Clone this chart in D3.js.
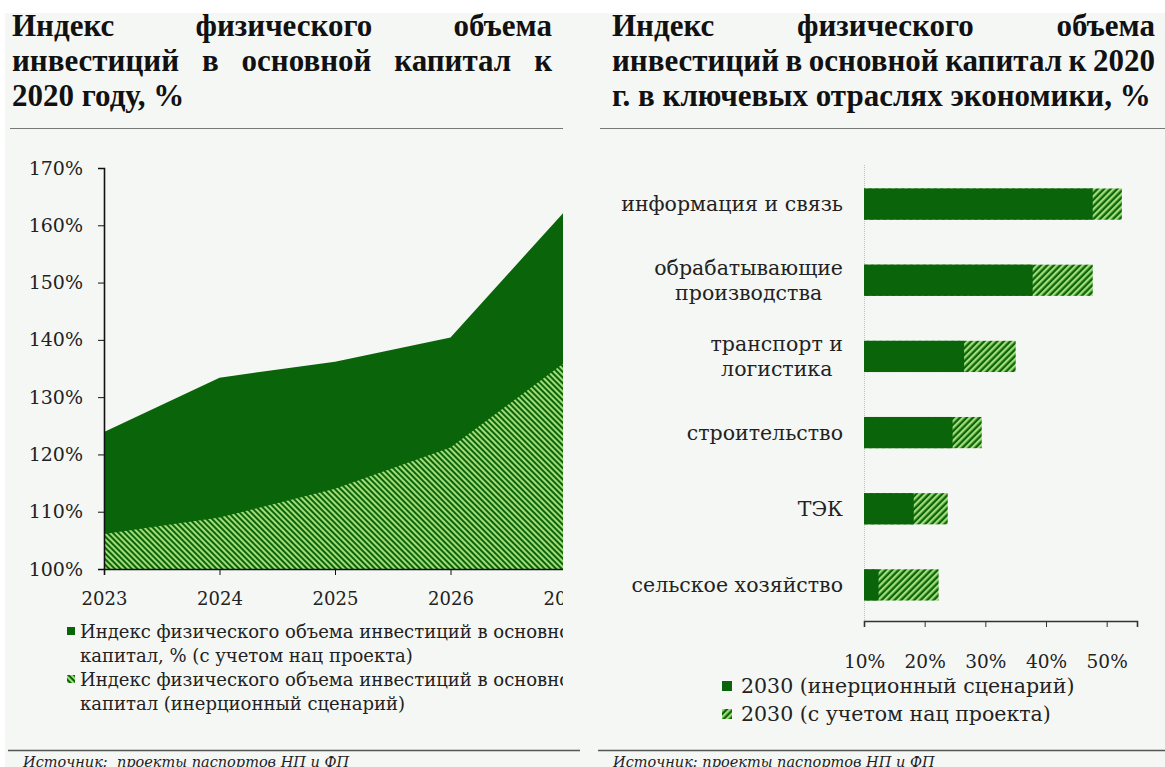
<!DOCTYPE html>
<html>
<head>
<meta charset="utf-8">
<script src="https://cdn.jsdelivr.net/npm/d3@7"></script>
<style>
  body { margin: 0; background: #ffffff; }
  svg { display: block; }
</style>
</head>
<body>
<div id="chart"></div>
<script>
// left chart: index of investment volume to 2020, %
var years = [2023, 2024, 2025, 2026, 2027]
var withProject = [123.9, 133.4, 136.2, 140.4, 162.7]
var inertial = [106.1, 109.0, 114.0, 121.2, 136.2]
var yTicksLeft = [100, 110, 120, 130, 140, 150, 160, 170]

// right chart: key sectors
var sectors = [
    ["информация и связь"],
    ["обрабатывающие", "производства"],
    ["транспорт и", "логистика"],
    ["строительство"],
    ["ТЭК"],
    ["сельское хозяйство"]
]
var sectorInertial = [47.7, 37.8, 26.5, 24.6, 18.2, 12.4]
var sectorProject = [52.5, 47.7, 35.0, 29.4, 23.8, 22.3]
var xTicksRight = [10, 20, 30, 40, 50]

var W = 1165
var H = 767
var dark = "#0a650a"
var light = "#a3dc78"
var serif = "'DejaVu Serif', serif"
var titleFont = "'Liberation Serif', serif"
var titleSize = 31

var svg = d3.select("#chart").append("svg")
    .attr("width", W)
    .attr("height", H)

var defs = svg.append("defs")

// hatch patterns
function hatch(id, size, angle) {
    var p = defs.append("pattern")
        .attr("id", id)
        .attr("patternUnits", "userSpaceOnUse")
        .attr("width", size)
        .attr("height", size)
        .attr("patternTransform", "rotate(" + angle + ")")
    p.append("rect").attr("width", size).attr("height", size).attr("fill", dark)
    p.append("rect").attr("width", size / 2).attr("height", size).attr("fill", light)
}
hatch("hatchLeft", 4, -45)
hatch("hatchRight", 4.6, 45)

defs.append("clipPath").attr("id", "clipLeft")
    .append("rect").attr("x", 0).attr("y", 0).attr("width", 563).attr("height", H)

// panel background
svg.append("rect")
    .attr("x", 5).attr("y", 13)
    .attr("width", W - 5).attr("height", H - 13)
    .attr("fill", "#f5f7f5")

// justified title line
function justify(g, words, x0, x1, y) {
    var nodes = words.map(function(w) {
        return g.append("text")
            .attr("y", y)
            .attr("font-family", titleFont)
            .attr("font-weight", "bold")
            .attr("font-size", titleSize)
            .attr("fill", "#111")
            .text(w)
    })
    var widths = nodes.map(function(n) { return n.node().getComputedTextLength() })
    var gap = (x1 - x0 - d3.sum(widths)) / (words.length - 1)
    var x = x0
    nodes.forEach(function(n, i) {
        n.attr("x", x)
        x += widths[i] + gap
    })
}

function titleLine(g, text, x, y) {
    g.append("text")
        .attr("x", x).attr("y", y)
        .attr("font-family", titleFont)
        .attr("font-weight", "bold")
        .attr("font-size", titleSize)
        .attr("fill", "#111")
        .text(text)
}

var titles = svg.append("g")
justify(titles, ["Индекс", "физического", "объема"], 12, 552, 36)
justify(titles, ["инвестиций", "в", "основной", "капитал", "к"], 12, 552, 71)
titleLine(titles, "2020 году, %", 12, 106)
justify(titles, ["Индекс", "физического", "объема"], 612, 1155, 36)
justify(titles, ["инвестиций", "в", "основной", "капитал", "к", "2020"], 612, 1155, 71)
titleLine(titles, "г. в ключевых отраслях экономики, %", 612, 106)

// separators
svg.append("line").attr("x1", 10).attr("x2", 563).attr("y1", 128.5).attr("y2", 128.5)
    .attr("stroke", "#777").attr("stroke-width", 1)
svg.append("line").attr("x1", 600).attr("x2", W).attr("y1", 128.5).attr("y2", 128.5)
    .attr("stroke", "#777").attr("stroke-width", 1)
svg.append("line").attr("x1", 8).attr("x2", 580).attr("y1", 750.5).attr("y2", 750.5)
    .attr("stroke", "#555").attr("stroke-width", 1.3)
svg.append("line").attr("x1", 598).attr("x2", W).attr("y1", 750.5).attr("y2", 750.5)
    .attr("stroke", "#555").attr("stroke-width", 1.3)

// source notes
svg.append("text").attr("x", 23).attr("y", 767)
    .attr("font-family", serif).attr("font-style", "italic").attr("font-size", 14.5)
    .attr("fill", "#222").attr("xml:space", "preserve")
    .text("Источник:  проекты паспортов НП и ФП")
svg.append("text").attr("x", 613).attr("y", 767)
    .attr("font-family", serif).attr("font-style", "italic").attr("font-size", 14.5)
    .attr("fill", "#222")
    .text("Источник: проекты паспортов НП и ФП")

// ---------- left area chart ----------
var left = svg.append("g").attr("clip-path", "url(#clipLeft)")

var xLeft = d3.scaleLinear().domain([2023, 2027]).range([104, 566])
var yLeft = d3.scaleLinear().domain([100, 170]).range([569, 168])

var areaTop = d3.area()
    .x(function(d, i) { return xLeft(years[i]) })
    .y0(yLeft(100))
    .y1(function(d) { return yLeft(d) })

left.append("path")
    .datum(withProject)
    .attr("d", areaTop)
    .attr("fill", dark)

left.append("path")
    .datum(inertial)
    .attr("d", areaTop)
    .attr("fill", "url(#hatchLeft)")

var yAxisLeft = d3.axisLeft(yLeft)
    .tickValues(yTicksLeft)
    .tickSize(6)
    .tickPadding(15)
    .tickFormat(function(d) { return d + "%" })

var gy = svg.append("g")
    .attr("transform", "translate(104,0)")
    .call(yAxisLeft)
gy.select(".domain").attr("stroke", "#111").attr("stroke-width", 1.6)
gy.selectAll("line").attr("stroke", "#111")
gy.selectAll("text")
    .attr("font-family", serif).attr("font-size", 19).attr("fill", "#222")

var xAxisLeft = d3.axisBottom(xLeft)
    .tickValues(years)
    .tickSize(6)
    .tickPadding(17)
    .tickFormat(d3.format("d"))

var gx = left.append("g")
    .attr("transform", "translate(0,569)")
    .call(xAxisLeft)
gx.select(".domain").attr("stroke", "#111").attr("stroke-width", 1.6)
gx.selectAll("line").attr("stroke", "#111")
gx.selectAll("text")
    .attr("font-family", serif).attr("font-size", 18).attr("fill", "#222")

// left legend
var legLeft = [
    { fill: dark, lines: ["Индекс физического объема инвестиций в основной", "капитал, % (с учетом нац проекта)"] },
    { fill: "url(#hatchLeft)", lines: ["Индекс физического объема инвестиций в основной", "капитал (инерционный сценарий)"] }
]
legLeft.forEach(function(item, i) {
    var y0 = 638 + i * 48
    left.append("rect")
        .attr("x", 67).attr("y", y0 - 11)
        .attr("width", 8).attr("height", 8)
        .attr("fill", item.fill)
    item.lines.forEach(function(t, j) {
        left.append("text")
            .attr("x", 80).attr("y", y0 + j * 24)
            .attr("font-family", serif).attr("font-size", 18).attr("fill", "#222")
            .text(t)
    })
})

// ---------- right bar chart ----------
var xRight = d3.scaleLinear().domain([10, 55]).range([864, 1137])
var yRight = d3.scaleBand()
    .domain(d3.range(sectors.length))
    .range([166, 623])
    .paddingInner(0.59)
    .paddingOuter(0.295)

var right = svg.append("g")

// vertical axis line
right.append("line")
    .attr("x1", 864.5).attr("x2", 864.5)
    .attr("y1", 165).attr("y2", 621)
    .attr("stroke", "#b8c8b8").attr("stroke-dasharray", "1,1")

right.selectAll(".barP")
    .data(sectorProject)
    .enter()
    .append("rect")
    .attr("x", xRight(10))
    .attr("y", function(d, i) { return yRight(i) })
    .attr("width", function(d) { return xRight(d) - xRight(10) })
    .attr("height", yRight.bandwidth())
    .attr("fill", "url(#hatchRight)")

right.selectAll(".barI")
    .data(sectorInertial)
    .enter()
    .append("rect")
    .attr("x", xRight(10))
    .attr("y", function(d, i) { return yRight(i) })
    .attr("width", function(d) { return xRight(d) - xRight(10) })
    .attr("height", yRight.bandwidth())
    .attr("fill", dark)

// category labels: centered blocks, right aligned at x=843
sectors.forEach(function(lines, i) {
    var cy = yRight(i) + yRight.bandwidth() / 2
    var g = right.append("g")
    var nodes = lines.map(function(t, j) {
        return g.append("text")
            .attr("y", cy + (j - (lines.length - 1) / 2) * 25 + 7)
            .attr("text-anchor", "middle")
            .attr("font-family", serif).attr("font-size", 20.5).attr("fill", "#222")
            .text(t)
    })
    var maxW = d3.max(nodes, function(n) { return n.node().getComputedTextLength() })
    nodes.forEach(function(n) { n.attr("x", 843 - maxW / 2) })
})

var xAxisRight = d3.axisBottom(xRight)
    .tickValues(xTicksRight)
    .tickSize(6)
    .tickPadding(28)
    .tickFormat(function(d) { return d + "%" })

var gxr = right.append("g")
    .attr("transform", "translate(0,621)")
    .call(xAxisRight)
gxr.select(".domain").attr("stroke", "#333").attr("stroke-width", 1.6)
gxr.selectAll("line").attr("stroke", "#333")
gxr.selectAll("text")
    .attr("font-family", serif).attr("font-size", 18.5).attr("fill", "#222")

// right legend
var legRight = [
    { fill: dark, label: "2030 (инерционный сценарий)" },
    { fill: "url(#hatchRight)", label: "2030 (с учетом нац проекта)" }
]
legRight.forEach(function(item, i) {
    var cy = 686 + i * 28
    right.append("rect")
        .attr("x", 722).attr("y", cy - 5)
        .attr("width", 10).attr("height", 10)
        .attr("fill", item.fill)
    right.append("text")
        .attr("x", 741).attr("y", cy + 7)
        .attr("font-family", serif).attr("font-size", 20.5).attr("fill", "#222")
        .text(item.label)
})
</script>
</body>
</html>
